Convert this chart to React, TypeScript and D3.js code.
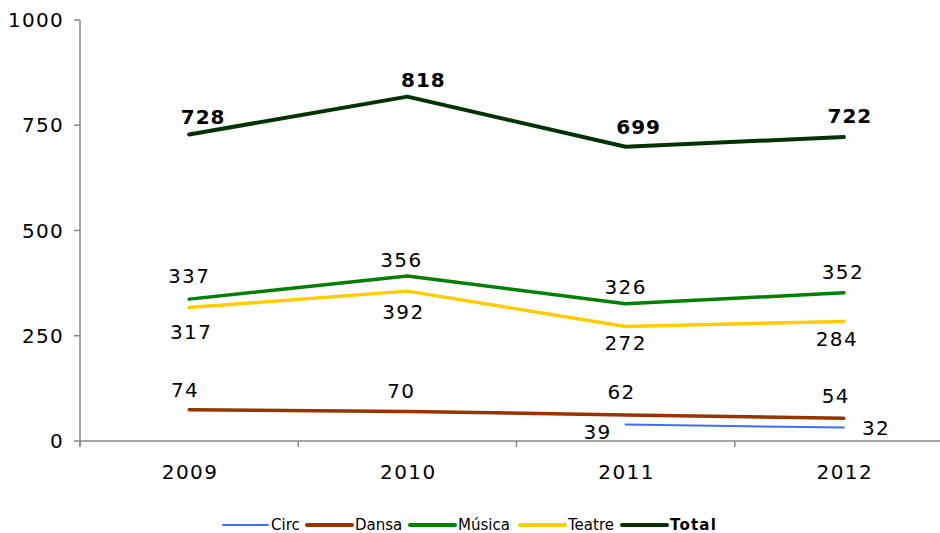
import React from "react";
import * as d3 from "d3";

const years = ["2009", "2010", "2011", "2012"];
const yTicks = [0, 250, 500, 750, 1000];

const circValues: (number | null)[] = [null, null, 39, 32];
const dansaValues: (number | null)[] = [74, 70, 62, 54];
const musicaValues: (number | null)[] = [337, 392, 326, 352];
const teatreValues: (number | null)[] = [317, 356, 272, 284];
const totalValues: (number | null)[] = [728, 818, 699, 722];

const musicaLabels = ["337", "356", "326", "352"];
const teatreLabels = ["317", "392", "272", "284"];

const seriesNames = ["Circ", "Dansa", "Música", "Teatre", "Total"];

const W = 940;
const H = 533;
const FONT = "'DejaVu Sans', Verdana, sans-serif";

export default function App() {
  const x = d3.scaleBand<string>().domain(years).range([80, 953]).padding(0);
  const cx = (y: string) => (x(y) as number) + x.bandwidth() / 2;
  const y = d3.scaleLinear().domain([0, 1000]).range([441, 20]);

  const line = d3
    .line<number | null>()
    .defined((d) => d !== null)
    .x((_, i) => cx(years[i]))
    .y((d) => y(d as number));

  type S = {
    name: string;
    values: (number | null)[];
    labels: string[];
    color: string;
    width: number;
    bold?: boolean;
    dx: number[];
    dy: number[];
    anchor?: string[];
  };

  const series: S[] = [
    {
      name: "Circ",
      values: circValues,
      labels: circValues.map((v) => (v === null ? "" : String(v))),
      color: "#3F6DFF",
      width: 2,
      dx: [0, 0, -14, 18],
      dy: [0, 0, 14, 7],
      anchor: ["middle", "middle", "end", "start"],
    },
    {
      name: "Dansa",
      values: dansaValues,
      labels: dansaValues.map((v) => String(v)),
      color: "#993300",
      width: 3.5,
      dx: [-4, -6, -4, -8],
      dy: [-13, -14, -16, -15],
    },
    {
      name: "Música",
      values: musicaValues,
      labels: musicaLabels,
      color: "#008000",
      width: 3.5,
      dx: [0, -6, 0, -1],
      dy: [-16, -9, -10, -14],
    },
    {
      name: "Teatre",
      values: teatreValues,
      labels: teatreLabels,
      color: "#FFCC00",
      width: 3.5,
      dx: [2, -4, 0, -7],
      dy: [31, 28, 24, 25],
    },
    {
      name: "Total",
      values: totalValues,
      labels: totalValues.map((v) => String(v)),
      color: "#003300",
      width: 4,
      bold: true,
      dx: [14, 16, 13, 6],
      dy: [-11, -10, -13, -14],
    },
  ];

  const boundaries = years.map((yr) => x(yr) as number);

  const legendItems = [
    { name: seriesNames[0], color: "#3F6DFF", w: 2, x0: 223, bold: false },
    { name: seriesNames[1], color: "#993300", w: 4, x0: 307, bold: false },
    { name: seriesNames[2], color: "#008000", w: 4, x0: 410, bold: false },
    { name: seriesNames[3], color: "#FFCC00", w: 4, x0: 520, bold: false },
    { name: seriesNames[4], color: "#003300", w: 4, x0: 622, bold: true },
  ];

  return (
    <svg
      width={W}
      height={H}
      style={{ position: "absolute", left: 0, top: 0, display: "block", background: "#fff" }}
      fontFamily={FONT}
    >
      <line x1={80} y1={y(1000)} x2={80} y2={447} stroke="#888" strokeWidth={1.5} />
      <line x1={80} y1={y(0)} x2={940} y2={y(0)} stroke="#888" strokeWidth={1.5} />
      {yTicks.map((t) => (
        <g key={t}>
          <line x1={74} x2={80} y1={y(t)} y2={y(t)} stroke="#888" strokeWidth={1.5} />
          <text x={64} y={y(t)} dy="0.36em" textAnchor="end" fontSize={20} letterSpacing={1.3} fill="#000">
            {t}
          </text>
        </g>
      ))}
      {boundaries.map((b, i) => (
        <line key={i} x1={b} x2={b} y1={y(0)} y2={447} stroke="#888" strokeWidth={1.5} />
      ))}
      {years.map((yr) => (
        <text key={yr} x={cx(yr) + 1} y={479} textAnchor="middle" fontSize={20} letterSpacing={1.5} fill="#000">
          {yr}
        </text>
      ))}

      {series.map((s) => (
        <path
          key={s.name}
          d={line(s.values) || ""}
          fill="none"
          stroke={s.color}
          strokeWidth={s.width}
          strokeLinejoin="round"
          strokeLinecap="round"
        />
      ))}

      {series.map((s) =>
        s.values.map((v, i) =>
          v === null ? null : (
            <text
              key={s.name + i}
              x={cx(years[i]) + s.dx[i]}
              y={y(v) + s.dy[i]}
              textAnchor={s.anchor ? s.anchor[i] : "middle"}
              fontSize={20}
              fontWeight={s.bold ? "bold" : "normal"}
              letterSpacing={s.bold ? 1 : 1.4}
              fill="#000"
            >
              {s.labels[i]}
            </text>
          )
        )
      )}

      {legendItems.map((it) => (
        <g key={it.name}>
          <line
            x1={it.x0}
            x2={it.x0 + 45}
            y1={525}
            y2={525}
            stroke={it.color}
            strokeWidth={it.w}
            strokeLinecap="round"
          />
          <text
            x={it.x0 + 48}
            y={525}
            dy="0.36em"
            fontSize={15}
            fontWeight={it.bold ? "bold" : "normal"}
            letterSpacing={it.bold ? 1.2 : 0}
            fill="#000"
          >
            {it.name}
          </text>
        </g>
      ))}
    </svg>
  );
}
